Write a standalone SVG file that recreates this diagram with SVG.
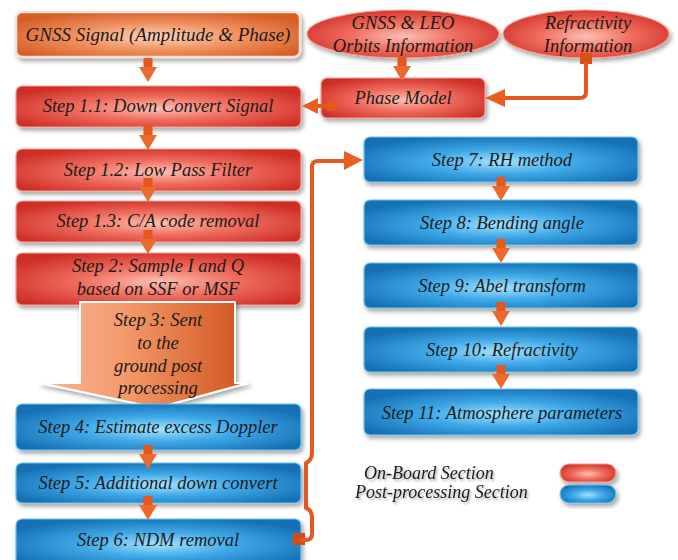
<svg xmlns="http://www.w3.org/2000/svg" width="678" height="560" viewBox="0 0 678 560">
<defs>
<radialGradient id="gRed" cx="50%" cy="55%" r="60%">
<stop offset="0" stop-color="#FCC0B4"/>
<stop offset="0.45" stop-color="#F06F60"/>
<stop offset="1" stop-color="#CF2F27"/>
</radialGradient>
<radialGradient id="gBlue" cx="50%" cy="55%" r="60%">
<stop offset="0" stop-color="#A4E2FC"/>
<stop offset="0.45" stop-color="#3FA9E8"/>
<stop offset="1" stop-color="#146FB3"/>
</radialGradient>
<radialGradient id="gOrange" cx="50%" cy="55%" r="60%">
<stop offset="0" stop-color="#FDD3BC"/>
<stop offset="0.5" stop-color="#F0905F"/>
<stop offset="1" stop-color="#D65E27"/>
</radialGradient>
<linearGradient id="gArrow3" x1="0" y1="0" x2="1" y2="0">
<stop offset="0" stop-color="#F7B899"/>
<stop offset="0.4" stop-color="#F59A6C"/>
<stop offset="1" stop-color="#CE531C"/>
</linearGradient>
<filter id="sh" x="-10%" y="-20%" width="125%" height="150%">
<feDropShadow dx="2" dy="3" stdDeviation="2" flood-color="#000" flood-opacity="0.35"/>
</filter>
<filter id="tsh" x="-10%" y="-30%" width="120%" height="170%">
<feDropShadow dx="1.5" dy="2" stdDeviation="1.2" flood-color="#000" flood-opacity="0.35"/>
</filter>
<g id="dArrow">
<rect x="-4.5" y="0" width="9" height="10" fill="#E4571D"/>
<polygon points="-9,9 9,9 0,24" fill="#EE6A2C"/>
</g>
</defs>
<style>
.red{fill:url(#gRed);stroke:#F3A093;stroke-width:1.2;filter:url(#sh)}
.blue{fill:url(#gBlue);stroke:#6CC3EF;stroke-width:1.2;filter:url(#sh)}
.org{fill:url(#gOrange);stroke:#F6E2D8;stroke-width:2.5;filter:url(#sh)}
.t{font-style:italic;font-size:18.5px;fill:#1B1B1B;text-anchor:middle}
.leg{font-size:18px;text-anchor:start;filter:url(#tsh)}
.ln{fill:none;stroke:#E45A1E;stroke-width:4;stroke-linejoin:round}
.hd{fill:#E95F22}
</style>
<rect width="678" height="560" fill="#FFFFFF"/>
<g font-family="'Liberation Serif', 'Times New Roman', serif">
<g id="gnss-signal"><rect class="org" x="16" y="12" width="284" height="45" rx="6"/><text class="t" x="158" y="41" style="font-size:19px">GNSS Signal (Amplitude &amp; Phase)</text></g>
<g id="gnss-leo"><ellipse class="red" cx="403" cy="34" rx="96" ry="24"/><text class="t" x="403" y="29">GNSS &amp; LEO</text><text class="t" x="403" y="52">Orbits Information</text></g>
<g id="refractivity-info"><ellipse class="red" cx="586" cy="34" rx="83" ry="24"/><text class="t" x="588" y="29">Refractivity</text><text class="t" x="588" y="52">Information</text></g>
<g id="phase-model"><rect class="red" x="321" y="78" width="164" height="40" rx="6"/><text class="t" x="403" y="104">Phase Model</text></g>
<g id="step11"><rect class="red" x="16" y="86" width="285" height="41" rx="6"/><text class="t" x="158" y="112">Step 1.1: Down Convert Signal</text></g>
<g id="step12"><rect class="red" x="16" y="149" width="285" height="42" rx="6"/><text class="t" x="158" y="176">Step 1.2: Low Pass Filter</text></g>
<g id="step13"><rect class="red" x="16" y="201" width="285" height="41" rx="6"/><text class="t" x="158" y="227">Step 1.3: C/A code removal</text></g>
<g id="step2"><rect class="red" x="16" y="253" width="285" height="52" rx="6"/><text class="t" x="158" y="272">Step 2: Sample I and Q</text><text class="t" x="158" y="295">based on SSF or MSF</text></g>
<g id="step3"><path d="M80,302 H235 V383 H248 L157,408 L40,383 H80 Z" fill="url(#gArrow3)" stroke="#FFFFFF" stroke-width="2" stroke-linejoin="round" filter="url(#sh)"/><text class="t" x="158" y="326">Step 3: Sent</text><text class="t" x="158" y="349">to the</text><text class="t" x="158" y="372">ground post</text><text class="t" x="158" y="394">processing</text></g>
<g id="step4"><rect class="blue" x="16" y="404" width="285" height="46" rx="6"/><text class="t" x="158" y="433">Step 4: Estimate excess Doppler</text></g>
<g id="step5"><rect class="blue" x="16" y="463" width="285" height="40" rx="6"/><text class="t" x="158" y="489">Step 5: Additional down convert</text></g>
<g id="step6"><rect class="blue" x="16" y="519" width="285" height="46" rx="6"/><text class="t" x="158" y="546">Step 6: NDM removal</text></g>
<g id="step7"><rect class="blue" x="364" y="137" width="274" height="45" rx="6"/><text class="t" x="502" y="166">Step 7: RH method</text></g>
<g id="step8"><rect class="blue" x="364" y="200" width="274" height="45" rx="6"/><text class="t" x="502" y="229">Step 8: Bending angle</text></g>
<g id="step9"><rect class="blue" x="364" y="263" width="274" height="45" rx="6"/><text class="t" x="502" y="292">Step 9: Abel transform</text></g>
<g id="step10"><rect class="blue" x="364" y="327" width="274" height="45" rx="6"/><text class="t" x="502" y="356">Step 10: Refractivity</text></g>
<g id="step11b"><rect class="blue" x="364" y="389" width="274" height="46" rx="6"/><text class="t" x="502" y="419">Step 11: Atmosphere parameters</text></g>
<g id="legend">
<text class="t leg" x="364" y="479">On-Board Section</text>
<text class="t leg" x="355" y="498">Post-processing Section</text>
<rect class="red" x="560" y="464" width="56" height="18" rx="9"/>
<rect class="blue" x="560" y="485" width="56" height="18" rx="9"/>
</g>
</g>
<g id="connectors">
<use href="#dArrow" x="148" y="58"/>
<use href="#dArrow" x="148" y="126"/>
<use href="#dArrow" x="148" y="178"/>
<use href="#dArrow" x="148" y="230"/>
<use href="#dArrow" x="148" y="445"/>
<use href="#dArrow" x="148" y="496"/>
<use href="#dArrow" x="402" y="57"/>
<use href="#dArrow" x="501" y="177"/>
<use href="#dArrow" x="501" y="239"/>
<use href="#dArrow" x="501" y="302"/>
<use href="#dArrow" x="501" y="365"/>
<rect x="580" y="53" width="12" height="11" fill="#DA5016"/>
<path class="ln" d="M586,62 V92 Q586,98 580,98 H503"/>
<polygon class="hd" points="485,98 505,89 505,107"/>
<rect x="327" y="101" width="10" height="10" fill="#E4571D"/>
<path class="ln" d="M330,106 H314"/>
<polygon class="hd" points="302,106 318,98 318,114"/>
<rect x="293" y="533" width="12" height="12" fill="#D84C14"/>
<path class="ln" d="M300,540 H306 Q312,540 312,534 V518 Q312,510 306,508 V463 Q312,460 312,453 V167 Q312,161 318,161 H348"/>
<polygon class="hd" points="363,160 344,151 344,170"/>
</g>
</svg>
